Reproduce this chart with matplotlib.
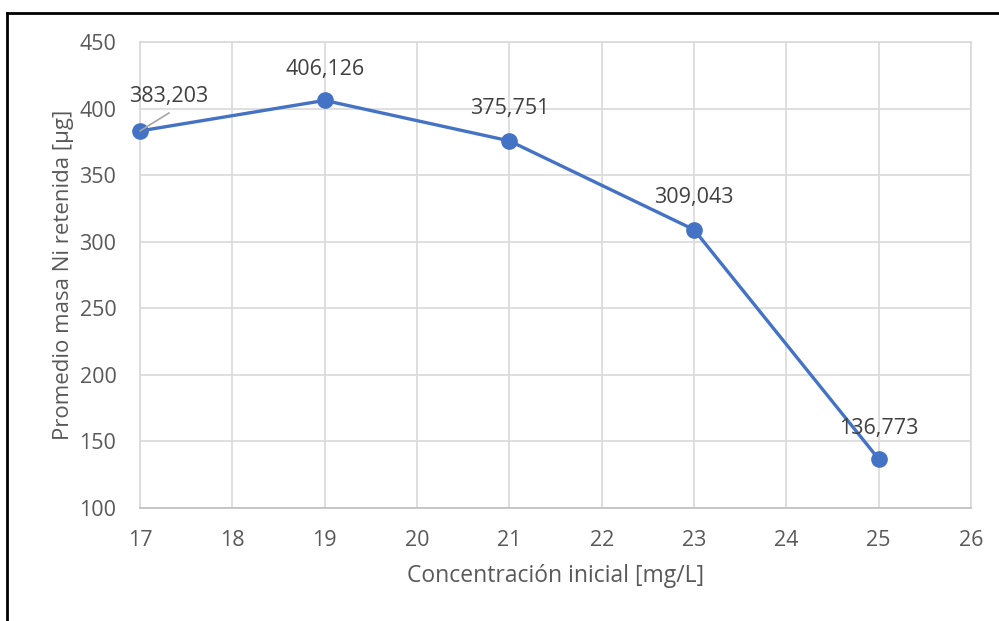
import matplotlib
matplotlib.use("Agg")
import matplotlib.pyplot as plt
from matplotlib.lines import Line2D

conc = [17, 19, 21, 23, 25]
masa = [383.203, 406.126, 375.751, 309.043, 136.773]
labels = ["383,203", "406,126", "375,751", "309,043", "136,773"]
xticks = [17, 18, 19, 20, 21, 22, 23, 24, 25, 26]
yticks = [100, 150, 200, 250, 300, 350, 400, 450]

plt.rcParams['font.family'] = ['Open Sans', 'DejaVu Sans']
txt = '#595959'
blue = '#4472C4'

fig = plt.figure(figsize=(9.99, 6.21), dpi=100)
W, H = 999, 621
ax = fig.add_axes([140 / W, 1 - 508 / H, (971 - 140) / W, (508 - 42) / H])

ax.plot(conc, masa, color=blue, lw=2.4, marker='o', ms=11, mec=blue, mfc=blue, zorder=3, clip_on=False)

ax.set_xlim(17, 26)
ax.set_ylim(100, 450)
ax.set_xticks(xticks)
ax.set_yticks(yticks)
ax.grid(True, color='#D9D9D9', lw=1.2)
ax.set_axisbelow(True)
for s in ax.spines.values():
    s.set_color('#D9D9D9')
    s.set_linewidth(1.2)
ax.spines['bottom'].set_color('#BFBFBF')
ax.tick_params(length=0, labelsize=15.5, labelcolor=txt)
ax.tick_params(axis='y', pad=17)
ax.tick_params(axis='x', pad=16)
ax.set_xlabel('Concentración inicial [mg/L]', fontsize=16.5, color=txt, labelpad=9)
ax.set_ylabel('Promedio masa Ni retenida [µg]', fontsize=16, color=txt, labelpad=4)

# data labels (offsets in points)
offsets = [(21, 25), (0, 22), (0, 23), (0, 23), (0, 22)]
for i, (x, y, lab) in enumerate(zip(conc, masa, labels)):
    if i == 0:
        # leader line from the point towards the label
        ax.annotate('', xy=(x, y), xytext=(21, 13), textcoords='offset points', zorder=5,
                    arrowprops=dict(arrowstyle='-', color='#A6A6A6', lw=1.2,
                                    shrinkA=0, shrinkB=0))
    ax.annotate(lab, xy=(x, y), xytext=offsets[i], textcoords='offset points',
                ha='center', va='center', fontsize=15.5, color='#404040', zorder=5)

# outer border (top and left visible)
fig.add_artist(Line2D([7 / W, 7 / W], [0, 1 - 13 / H], transform=fig.transFigure, color='black', lw=2))
fig.add_artist(Line2D([7 / W, 1], [1 - 13 / H, 1 - 13 / H], transform=fig.transFigure, color='black', lw=2))

fig.savefig('out.png', dpi=100, facecolor='white')
